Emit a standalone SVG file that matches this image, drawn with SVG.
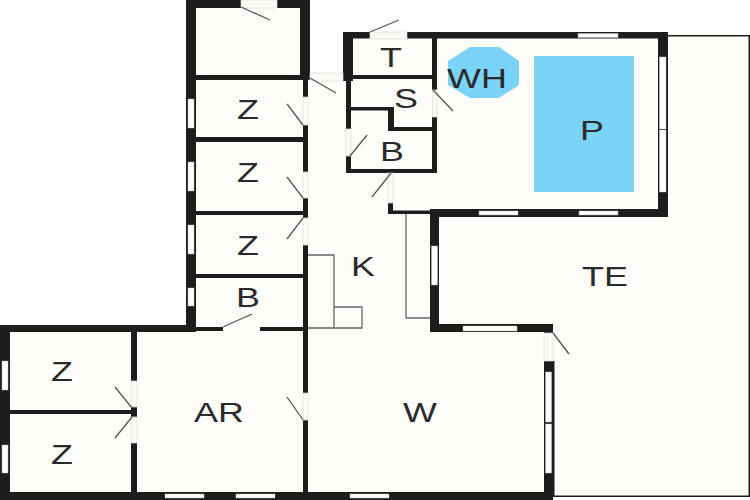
<svg xmlns="http://www.w3.org/2000/svg" width="750" height="500" viewBox="0 0 750 500">
<style>
.wall{fill:#1e1c1c}
.win{fill:#fff;stroke:#bbb;stroke-width:.5}
.gap{fill:#fbfbf6;stroke:#ddd;stroke-width:.7}
.swing{stroke:#555;stroke-width:1.3;fill:none}
.fix{stroke:#666;stroke-width:1.3;fill:none}
.lbl{font-family:"Liberation Sans",Arial,sans-serif;font-size:27px;fill:#2a2a2a;text-anchor:middle}
</style>
<rect width="750" height="500" fill="#fff"/>
<path id="floor" d="M186 0H310V72H343V32H668V35H750V496H553V500H0V325H186Z" fill="#fefefa"/>
<g id="water" fill="#7cd3f8">
<rect x="534" y="56" width="100" height="136"/>
<polygon points="470,47 499,47 519,61 519,85 499,98 470,98 448,85 448,61"/>
</g>
<g id="fixtures">
<path class="fix" d="M308 255H334V328M334 307H362V328H308"/>
<path class="fix" d="M406 214V318H430"/>
</g>
<g id="walls" class="wall">
<rect x="186" y="0" width="10" height="332"/>
<rect x="186" y="0" width="124" height="8"/>
<rect x="300" y="0" width="10" height="80"/>
<rect x="196" y="75" width="114" height="5"/>
<rect x="196" y="137" width="112" height="5"/>
<rect x="196" y="211" width="112" height="4"/>
<rect x="196" y="274" width="112" height="4"/>
<rect x="303" y="78" width="5" height="19"/>
<rect x="303" y="125" width="5" height="47"/>
<rect x="303" y="198" width="5" height="20"/>
<rect x="303" y="245" width="5" height="148"/>
<rect x="303" y="420" width="5" height="72"/>
<rect x="343" y="32" width="325" height="6.500"/>
<rect x="343" y="32" width="10" height="49"/>
<rect x="346" y="80" width="5" height="49"/>
<rect x="346" y="156" width="5" height="17"/>
<rect x="346" y="169" width="91" height="4"/>
<rect x="432" y="38" width="5" height="52"/>
<rect x="432" y="117" width="5" height="56"/>
<rect x="353" y="75" width="79" height="4"/>
<rect x="351" y="107" width="42" height="3.500"/>
<rect x="388" y="107" width="6" height="24"/>
<rect x="388" y="127" width="44" height="4"/>
<rect x="388" y="203" width="5" height="11"/>
<rect x="388" y="210.500" width="44" height="3.500"/>
<rect x="658" y="32" width="10" height="185"/>
<rect x="430" y="209" width="238" height="8"/>
<rect x="430" y="209" width="9" height="123"/>
<rect x="430" y="324" width="123" height="8"/>
<rect x="544" y="324" width="9" height="9"/>
<rect x="544" y="361" width="9" height="139"/>
<rect x="0" y="492" width="553" height="8"/>
<rect x="0" y="325" width="196" height="7"/>
<rect x="0" y="325" width="10" height="175"/>
<rect x="10" y="410" width="127" height="4"/>
<rect x="131" y="332" width="6" height="49"/>
<rect x="131" y="407" width="6" height="10"/>
<rect x="131" y="443" width="6" height="49"/>
<rect x="196" y="327" width="27" height="4"/>
<rect x="260" y="327" width="48" height="4"/>
</g>
<g id="openings">
<rect class="gap" x="241" y="0" width="36" height="8"/>
<rect class="gap" x="310" y="73" width="33" height="8"/>
<rect class="gap" x="370" y="32" width="37" height="7"/>
<rect class="gap" x="432.500" y="90" width="4.500" height="27"/>
<rect class="gap" x="303" y="97" width="5" height="28"/>
<rect class="gap" x="303" y="172" width="5" height="26"/>
<rect class="gap" x="303" y="218" width="5" height="27"/>
<rect class="gap" x="303" y="393" width="5" height="27"/>
<rect class="gap" x="131" y="381" width="6" height="26"/>
<rect class="gap" x="131" y="417" width="6" height="26"/>
<rect class="gap" x="544" y="333" width="9" height="28"/>
<rect class="gap" x="388" y="173" width="5" height="30"/>
<rect class="gap" x="346" y="129" width="5" height="27"/>
</g>
<g id="windows">
<rect class="win" x="578" y="33.500" width="40" height="4"/>
<rect class="win" x="479" y="211" width="39" height="4"/>
<rect class="win" x="579" y="211" width="39" height="4"/>
<rect class="win" x="659.500" y="57" width="6.500" height="72"/>
<rect class="win" x="659.500" y="130" width="6.500" height="62"/>
<rect class="win" x="431.500" y="246" width="6" height="39"/>
<rect class="win" x="463" y="326" width="54" height="5"/>
<rect class="win" x="545.500" y="372" width="6" height="50"/>
<rect class="win" x="545.500" y="424" width="6" height="49"/>
<rect class="win" x="350" y="494" width="39" height="4"/>
<rect class="win" x="165" y="494" width="39" height="4"/>
<rect class="win" x="236" y="494" width="39" height="4"/>
<rect class="win" x="2" y="361" width="6" height="29"/>
<rect class="win" x="2" y="445" width="6" height="28"/>
<rect class="win" x="188" y="99" width="6" height="29"/>
<rect class="win" x="188" y="162" width="6" height="29"/>
<rect class="win" x="188" y="225" width="6" height="29"/>
<rect class="win" x="188" y="288" width="6" height="18"/>
</g>
<g id="terrace" fill="#1e1c1c">
<rect x="668" y="35" width="82" height="1.500"/>
<rect x="748.500" y="35" width="1.500" height="461"/>
<rect x="553" y="495.500" width="197" height="1.500"/>
<rect x="553" y="361" width="1.500" height="135"/>
</g>
<g id="door-swings" class="swing">
<path d="M241 7L270 20"/>
<path d="M310 78L336 93"/>
<path d="M370 32L399 20"/>
<path d="M433 90L453 111"/>
<path d="M350 156L367 135"/>
<path d="M391 173L372 197"/>
<path d="M303 125L287 104"/>
<path d="M303 198L287 177"/>
<path d="M303 218L287 239"/>
<path d="M223 327L252 314"/>
<path d="M132 408L115 387"/>
<path d="M132 417L115 438"/>
<path d="M303 420L287 397"/>
<path d="M553 333L569 354"/>
</g>
<g id="labels">
<text class="lbl" transform="translate(391 67) scale(1.33 1)">T</text>
<text class="lbl" transform="translate(406 108) scale(1.33 1)">S</text>
<text class="lbl" transform="translate(392 161) scale(1.33 1)">B</text>
<text class="lbl" transform="translate(477 88) scale(1.33 1)">WH</text>
<text class="lbl" transform="translate(592 140) scale(1.33 1)">P</text>
<text class="lbl" transform="translate(248 119) scale(1.33 1)">Z</text>
<text class="lbl" transform="translate(248 182) scale(1.33 1)">Z</text>
<text class="lbl" transform="translate(248 255) scale(1.33 1)">Z</text>
<text class="lbl" transform="translate(248 307) scale(1.33 1)">B</text>
<text class="lbl" transform="translate(363 276) scale(1.33 1)">K</text>
<text class="lbl" transform="translate(605 286) scale(1.33 1)">TE</text>
<text class="lbl" transform="translate(62 381) scale(1.33 1)">Z</text>
<text class="lbl" transform="translate(62 464) scale(1.33 1)">Z</text>
<text class="lbl" transform="translate(219 422) scale(1.33 1)">AR</text>
<text class="lbl" transform="translate(420 422) scale(1.33 1)">W</text>
</g>
</svg>
